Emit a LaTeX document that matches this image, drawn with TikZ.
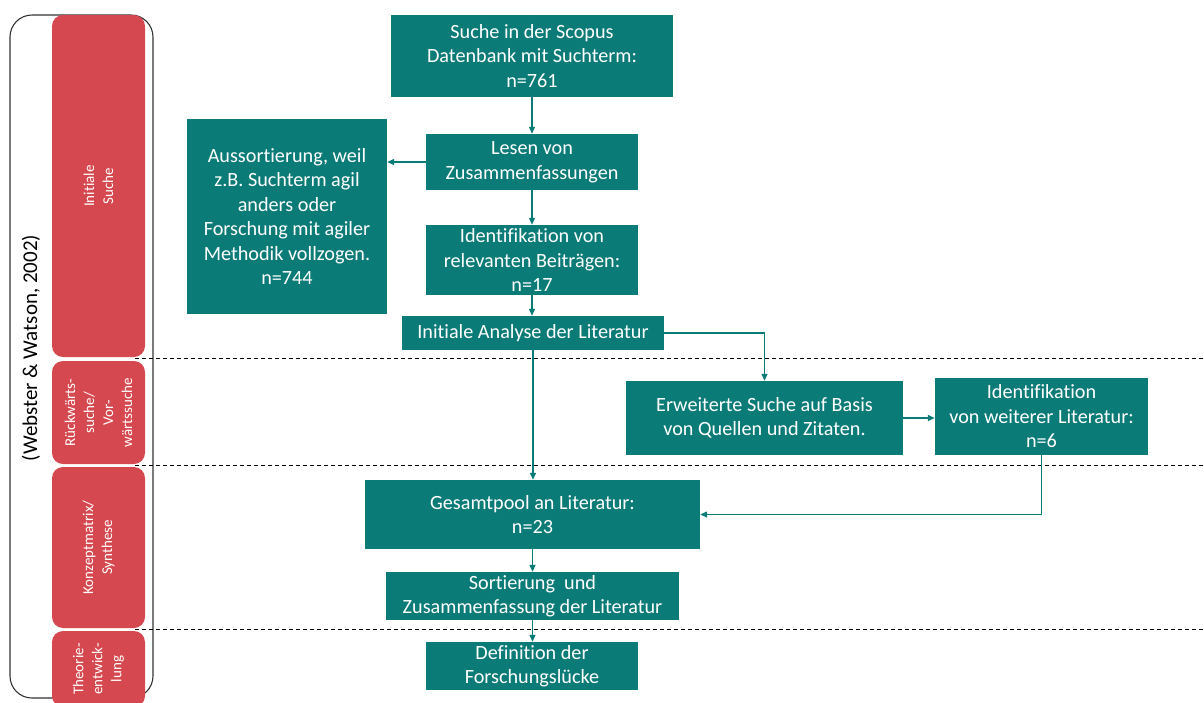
\documentclass[tikz,border=0pt]{standalone}
\usepackage{fontspec}
\setmainfont{Carlito}[Ligatures=NoCommon]
\usetikzlibrary{arrows.meta}
\definecolor{teal}{RGB}{11,123,120}
\definecolor{phasered}{RGB}{214,72,80}
\begin{document}
\begin{tikzpicture}[x=1pt,y=-1pt,
  stepbox/.style={fill=teal, text=white, draw=none, rectangle, align=center, inner sep=2pt,
    font=\fontsize{20.2}{24.5}\selectfont},
  phase/.style={fill=phasered, text=white, draw=none, rounded corners=11pt, align=center,
    rotate=90, inner sep=0pt, font=\fontsize{15}{19}\selectfont},
  link/.style={draw=teal, line width=1.3pt, -{Triangle[length=7pt,width=6pt]}},
  sep/.style={draw=black, line width=0.9pt, dash pattern=on 4pt off 3pt}]
\useasboundingbox (0,0) rectangle (1204,702);
\clip (0,0) rectangle (1204,702);

% outer frame with the source
\draw[line width=1.1pt, draw=black!80, rounded corners=22pt] (10,15) rectangle (153,698);
\node[rotate=90, font=\fontsize{21}{25}\selectfont] (src) at (31,348) {(Webster \& Watson, 2002)};

% phase labels
\node[phase, minimum width=342pt, minimum height=93pt] (p1) at (98.5,186) {Initiale\\Suche};
\node[phase, minimum width=103pt, minimum height=93pt] (p2) at (98.5,412.5) {Rückwärts-\\suche/\\Vor-\\wärtssuche};
\node[phase, minimum width=161pt, minimum height=93pt] (p3) at (98.5,547.5) {Konzeptmatrix/\\Synthese};
\node[phase, minimum width=76pt, minimum height=93pt] (p4) at (98.5,669) {Theorie-\\entwick-\\lung};

% phase separators
\draw[sep] (135,358) -- (1204,358);
\draw[sep] (135,465.5) -- (1204,465.5);
\draw[sep] (135,629.5) -- (1204,629.5);

% process steps
\node[stepbox, minimum width=282pt, minimum height=82pt] (s1) at (532,56) {Suche in der Scopus\\Datenbank mit Suchterm:\\n=761};
\node[stepbox, minimum width=212pt, minimum height=56pt] (s2) at (532,162) {Lesen von\\Zusammenfassungen};
\node[stepbox, minimum width=200pt, minimum height=195pt] (out) at (287,216.5) {Aussortierung, weil\\z.B. Suchterm agil\\anders oder\\Forschung mit agiler\\Methodik vollzogen.\\n=744};
\node[stepbox, minimum width=212pt, minimum height=70pt] (s3) at (532,260) {Identifikation von\\relevanten Beiträgen:\\n=17};
\node[stepbox, minimum width=262pt, minimum height=34pt] (s4) at (533,333) {Initiale Analyse der Literatur};
\node[stepbox, minimum width=277pt, minimum height=74pt] (s5) at (764.5,418) {Erweiterte Suche auf Basis\\von Quellen und Zitaten.};
\node[stepbox, minimum width=213pt, minimum height=77pt] (s6) at (1041.5,416.5) {Identifikation\\von weiterer Literatur:\\n=6};
\node[stepbox, minimum width=335pt, minimum height=69pt] (s7) at (532.5,514.5) {Gesamtpool an Literatur:\\n=23};
\node[stepbox, minimum width=293pt, minimum height=48pt] (s8) at (532.5,596) {Sortierung\ \ und\\Zusammenfassung der Literatur};
\node[stepbox, minimum width=212pt, minimum height=48pt] (s9) at (532,666) {Definition der\\Forschungslücke};

% connectors
\draw[link] (s1.south) -- (s2.north);
\draw[link] (s2.west) -- (s2.west -| out.east);
\draw[link] (s2.south) -- (s3.north);
\draw[link] (s3.south) -- (s3.south |- s4.north);
\draw[link] (s4.east) -| (s5.north);
\draw[link] (s5.east) -- (s5.east -| s6.west);
\draw[link] (s4.south) -- (s4.south |- s7.north);
\draw[link] (s6.south) |- (s7.east);
\draw[link] (s7.south) -- (s7.south |- s8.north);
\draw[link] (s8.south) -- (s8.south |- s9.north);
\end{tikzpicture}
\end{document}
